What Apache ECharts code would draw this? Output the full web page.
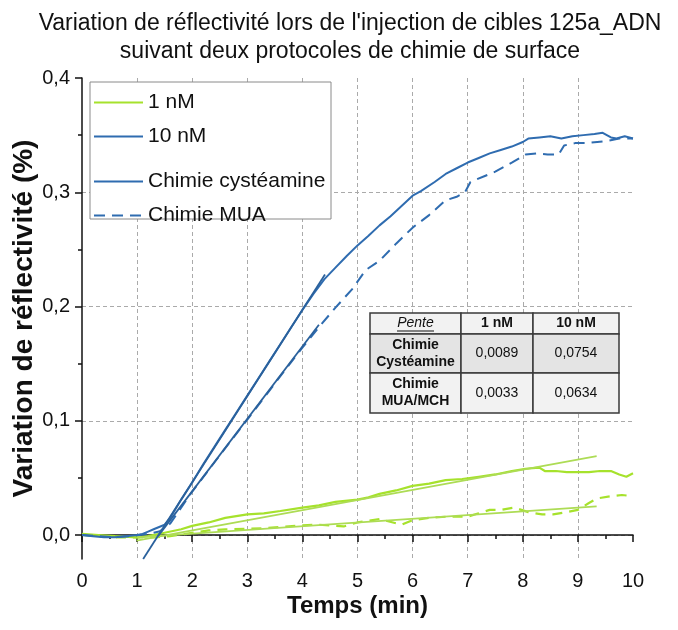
<!DOCTYPE html>
<html>
<head>
<meta charset="utf-8">
<title>Variation de réflectivité</title>
<script src="https://cdn.jsdelivr.net/npm/echarts@6/dist/echarts.min.js"></script>
<style>
html, body { margin: 0; padding: 0; background: #fff; }
#main { width: 678px; height: 630px; }
</style>
</head>
<body>
<div id="main"></div>
<script>
// temps (min) / variation de réflectivité (%)
var tCyst10 = [0, 0.2, 0.4, 0.6, 0.8, 1.0, 1.1, 1.2, 1.3, 1.4, 1.5, 1.6, 1.7, 1.8, 2.0, 2.2, 2.4, 2.6, 2.8, 3.0, 3.2, 3.4, 3.6, 3.8, 4.0, 4.2, 4.4, 4.6, 4.8, 5.0, 5.2, 5.4, 5.6, 5.8, 6.0, 6.15, 6.4, 6.6, 6.8, 7.0, 7.2, 7.4, 7.6, 7.8, 8.0, 8.1, 8.3, 8.5, 8.7, 8.9, 9.1, 9.3, 9.45, 9.6, 9.7, 9.85, 10];
var vCyst10 = [0, -0.001, -0.002, -0.002, -0.001, 0, 0.001, 0.003, 0.005, 0.007, 0.009, 0.015, 0.023, 0.031, 0.046, 0.062, 0.077, 0.092, 0.107, 0.122, 0.137, 0.152, 0.167, 0.182, 0.197, 0.211, 0.224, 0.234, 0.244, 0.2535, 0.262, 0.271, 0.279, 0.288, 0.297, 0.301, 0.309, 0.316, 0.321, 0.326, 0.330, 0.334, 0.337, 0.340, 0.344, 0.347, 0.348, 0.349, 0.347, 0.349, 0.350, 0.351, 0.352, 0.348, 0.347, 0.349, 0.347];

var tMua10 = [0, 0.3, 0.6, 0.9, 1.2, 1.4, 1.5, 1.6, 1.8, 2.0, 2.3, 2.6, 3.0, 3.3, 3.6, 4.0, 4.3, 4.6, 4.9, 5.15, 5.4, 5.7, 6.0, 6.3, 6.6, 6.8, 6.95, 7.05, 7.3, 7.5, 7.8, 8.05, 8.25, 8.45, 8.65, 8.75, 8.95, 9.15, 9.35, 9.55, 9.75, 10];
var vMua10 = [0, -0.001, -0.002, -0.001, 0.001, 0.003, 0.006, 0.010, 0.024, 0.038, 0.057, 0.076, 0.101, 0.120, 0.139, 0.164, 0.182, 0.199, 0.215, 0.232, 0.240, 0.255, 0.269, 0.280, 0.293, 0.296, 0.300, 0.309, 0.314, 0.318, 0.326, 0.333, 0.334, 0.333, 0.333, 0.341, 0.343, 0.343, 0.344, 0.345, 0.347, 0.347];

var tCyst1 = [0, 0.3, 0.6, 1.0, 1.2, 1.5, 1.8, 2.0, 2.3, 2.6, 3.0, 3.3, 3.6, 4.0, 4.3, 4.6, 5.0, 5.2, 5.4, 5.7, 6.0, 6.3, 6.6, 6.9, 7.2, 7.5, 7.8, 8.05, 8.3, 8.4, 8.6, 8.8, 9.0, 9.2, 9.4, 9.6, 9.75, 9.88, 10];
var vCyst1 = [0.001, 0, -0.001, -0.002, -0.001, 0.002, 0.005, 0.008, 0.011, 0.015, 0.018, 0.019, 0.021, 0.024, 0.026, 0.029, 0.031, 0.033, 0.036, 0.039, 0.043, 0.045, 0.048, 0.049, 0.051, 0.053, 0.056, 0.058, 0.059, 0.056, 0.056, 0.055, 0.055, 0.055, 0.056, 0.056, 0.053, 0.051, 0.054];

var tMua1 = [0, 0.3, 0.6, 1.0, 1.3, 1.6, 2.0, 2.3, 2.6, 3.0, 3.3, 3.6, 4.0, 4.3, 4.6, 4.75, 5.0, 5.4, 5.8, 6.0, 6.3, 6.6, 7.0, 7.2, 7.4, 7.6, 7.85, 8.1, 8.35, 8.55, 8.8, 9.0, 9.2, 9.35, 9.6, 9.8, 10];
var vMua1 = [0, -0.001, -0.002, -0.002, -0.002, -0.001, 0.002, 0.004, 0.005, 0.0055, 0.006, 0.007, 0.0085, 0.009, 0.008, 0.0075, 0.011, 0.014, 0.009, 0.013, 0.015, 0.016, 0.016, 0.019, 0.022, 0.022, 0.024, 0.020, 0.018, 0.018, 0.020, 0.022, 0.028, 0.032, 0.034, 0.035, 0.034];

// droites de régression (extrémités)
var tFitCyst10 = [1.11, 4.41], vFitCyst10 = [-0.021, 0.228];
var tFitMua10 = [1.38, 4.3], vFitMua10 = [-0.001, 0.184];
var tFitCyst1 = [0.99, 9.34], vFitCyst1 = [-0.005, 0.069];
var tFitMua1 = [1.0, 9.34], vFitMua1 = [-0.002, 0.025];

var yTicks = [0, 0.1, 0.2, 0.3, 0.4];
var yMinorTicks = [0.05, 0.15, 0.25, 0.35];
var yGrid = [0, 0.1, 0.2, 0.3];

// tableau des pentes
var tableHead = ['Pente', '1 nM', '10 nM'];
var tableRows = ['Chimie\nCystéamine', 'Chimie\nMUA/MCH'];
var pente1nM = ['0,0089', '0,0033'];
var pente10nM = ['0,0754', '0,0634'];

var green = '#a6e22c';
var greenFit = '#addc55';
var blue = '#2f6cb0';
var blueFit = '#2a619c';
var font = '"Liberation Sans", Arial, sans-serif';

function pairs(t, v) {
    var out = [];
    for (var i = 0; i < t.length; i++) out.push([t[i], v[i]]);
    return out;
}

function curve(name, t, v, color, width, dash) {
    return {
        name: name, type: 'line', data: pairs(t, v), symbol: 'none',
        lineStyle: { color: color, width: width, type: dash || 'solid' },
        itemStyle: { color: color }, z: 3, silent: true
    };
}

function legendOnly(name, color, dash) {
    return {
        name: name, type: 'line', data: [], symbol: 'none',
        lineStyle: { color: color, width: 2, type: dash || 'solid' },
        itemStyle: { color: color }
    };
}

// tableau en éléments graphiques
var tx = [370, 461, 533, 619];
var ty = [313, 334, 373, 413];
var rowFill = ['#f2f2f2', '#e4e4e4', '#f2f2f2'];
var tableEls = [];
for (var r = 0; r < 3; r++) {
    for (var c = 0; c < 3; c++) {
        tableEls.push({
            type: 'rect', z: 10,
            shape: { x: tx[c], y: ty[r], width: tx[c + 1] - tx[c], height: ty[r + 1] - ty[r] },
            style: { fill: rowFill[r], stroke: '#3a3a3a', lineWidth: 1.5 }
        });
        var txt, bold = false, italic = false;
        if (r === 0) { txt = tableHead[c]; bold = c > 0; italic = c === 0; }
        else if (c === 0) { txt = tableRows[r - 1]; bold = true; }
        else if (c === 1) { txt = pente1nM[r - 1]; }
        else { txt = pente10nM[r - 1]; }
        tableEls.push({
            type: 'text', z: 11,
            x: (tx[c] + tx[c + 1]) / 2, y: (ty[r] + ty[r + 1]) / 2,
            style: {
                text: txt, align: 'center', verticalAlign: 'middle',
                font: (italic ? 'italic ' : '') + (bold ? 'bold ' : '') + '14px ' + font,
                fill: '#111', lineHeight: 17
            }
        });
    }
}
// soulignement de "Pente"
tableEls.push({
    type: 'line', z: 11,
    shape: { x1: 397, y1: 331, x2: 434, y2: 331 },
    style: { stroke: '#111', lineWidth: 1 }
});

var legendBase = {
    orient: 'vertical', left: 93, padding: 0,
    itemWidth: 49, itemHeight: 14, itemGap: 13, selectedMode: false, z: 12,
    itemStyle: { opacity: 0 },
    textStyle: { fontSize: 21, color: '#111', fontFamily: font }
};

var myChart = echarts.init(document.getElementById('main'));
var option = {
    backgroundColor: '#fff',
    animation: false,
    grid: { left: 82, right: 45, top: 78, bottom: 71, outerBoundsMode: 'none', containLabel: false },
    legend: [
        Object.assign({ data: ['1 nM', '10 nM'], top: 92 }, legendBase),
        Object.assign({ data: ['Chimie cystéamine', 'Chimie MUA'], top: 171 }, legendBase)
    ],
    graphic: [
        {
            type: 'text', x: 350, y: 24,
            style: {
                text: "Variation de réflectivité lors de l'injection de cibles 125a_ADN",
                align: 'center', verticalAlign: 'middle', font: '23px ' + font, fill: '#111'
            }
        },
        {
            type: 'text', x: 350, y: 52,
            style: {
                text: 'suivant deux protocoles de chimie de surface',
                align: 'center', verticalAlign: 'middle', font: '23px ' + font, fill: '#111'
            }
        },
        {
            type: 'rect', z: 5,
            shape: { x: 90, y: 82, width: 241, height: 137 },
            style: { fill: '#fff', stroke: '#8a8a8a', lineWidth: 1 }
        }
    ].concat(tableEls),
    xAxis: {
        type: 'value', min: 0, max: 10, interval: 1,
        name: 'Temps (min)', nameLocation: 'middle', nameGap: 35, nameMoveOverlap: false,
        nameTextStyle: { fontSize: 24, fontWeight: 'bold', color: '#111', fontFamily: font },
        axisLine: { lineStyle: { color: '#111', width: 1.5 } },
        axisTick: { length: 7, lineStyle: { color: '#111', width: 1.5 } },
        minorTick: { show: true, splitNumber: 2, length: 4, lineStyle: { color: '#111', width: 1.5 } },
        axisLabel: { fontSize: 20, color: '#111', margin: 12, fontFamily: font },
        splitLine: { show: true, showMinLine: false, showMaxLine: false, lineStyle: { color: '#aaa', type: [4, 3], width: 1 } }
    },
    yAxis: [
        {
            type: 'value', min: -0.021, max: 0.4, position: 'left',
            name: 'Variation de réflectivité (%)', nameLocation: 'middle', nameGap: 44, nameMoveOverlap: false,
            nameTextStyle: { fontSize: 28, fontWeight: 'bold', color: '#111', fontFamily: font },
            axisLine: { show: true, lineStyle: { color: '#111', width: 1.5 } },
            axisTick: { show: true, customValues: yTicks, length: 7, lineStyle: { color: '#111', width: 1.5 } },
            axisLabel: {
                customValues: yTicks, fontSize: 20, color: '#111', margin: 12, fontFamily: font,
                formatter: function (v) { return v.toFixed(1).replace('.', ','); }
            },
            splitLine: { show: false }
        },
        {
            type: 'value', min: -0.021, max: 0.4, position: 'left', offset: 0,
            axisLine: { show: false },
            axisTick: { show: true, customValues: yMinorTicks, length: 4, lineStyle: { color: '#111', width: 1.5 } },
            axisLabel: { show: false },
            splitLine: { show: false }
        },
        {
            type: 'value', min: -0.021, max: 0.4, position: 'left', offset: 0,
            axisLine: { show: false },
            axisTick: { show: false, customValues: yGrid },
            axisLabel: { show: false },
            splitLine: { show: true, lineStyle: { color: '#aaa', type: [4, 3], width: 1 } }
        }
    ],
    series: [
        curve('c1', tCyst1, vCyst1, green, 2.2),
        curve('m1', tMua1, vMua1, green, 2.2, [10, 7]),
        curve('c10', tCyst10, vCyst10, blue, 2),
        curve('m10', tMua10, vMua10, blue, 2, [11, 7]),
        curve('f1', tFitCyst1, vFitCyst1, greenFit, 1.8),
        curve('f2', tFitMua1, vFitMua1, greenFit, 1.8),
        curve('f3', tFitCyst10, vFitCyst10, blueFit, 1.8),
        curve('f4', tFitMua10, vFitMua10, blueFit, 1.8),
        legendOnly('1 nM', green),
        legendOnly('10 nM', blue),
        legendOnly('Chimie cystéamine', blue),
        legendOnly('Chimie MUA', blue, [11, 7])
    ]
};
myChart.setOption(option);
</script>
</body>
</html>
